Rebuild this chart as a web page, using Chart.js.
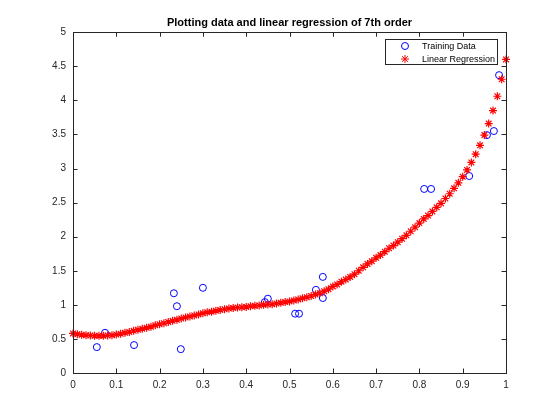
<!DOCTYPE html>
<html>
<head>
<meta charset="utf-8">
<script src="https://cdn.jsdelivr.net/npm/chart.js@4"></script>
<style>
  html, body { margin: 0; padding: 0; background: #fff; }
  #wrap { width: 560px; height: 420px; }
</style>
</head>
<body>
<div id="wrap"><canvas id="chart" width="560" height="420"></canvas></div>
<script>
// training samples
const trainX = [0.055, 0.074, 0.141, 0.233, 0.240, 0.249, 0.300, 0.443, 0.450, 0.513,
                0.522, 0.561, 0.577, 0.577, 0.811, 0.827, 0.915, 0.956, 0.972, 0.984];
const trainY = [0.38, 0.59, 0.41, 1.17, 0.98, 0.35, 1.25, 1.04, 1.09, 0.87,
                0.87, 1.22, 1.41, 1.10, 2.70, 2.70, 2.89, 3.49, 3.55, 4.37];

// fitted curve (7th order), sampled every 0.01
const fitX = [0.00, 0.01, 0.02, 0.03, 0.04, 0.05, 0.06, 0.07, 0.08, 0.09,
              0.10, 0.11, 0.12, 0.13, 0.14, 0.15, 0.16, 0.17, 0.18, 0.19,
              0.20, 0.21, 0.22, 0.23, 0.24, 0.25, 0.26, 0.27, 0.28, 0.29,
              0.30, 0.31, 0.32, 0.33, 0.34, 0.35, 0.36, 0.37, 0.38, 0.39,
              0.40, 0.41, 0.42, 0.43, 0.44, 0.45, 0.46, 0.47, 0.48, 0.49,
              0.50, 0.51, 0.52, 0.53, 0.54, 0.55, 0.56, 0.57, 0.58, 0.59,
              0.60, 0.61, 0.62, 0.63, 0.64, 0.65, 0.66, 0.67, 0.68, 0.69,
              0.70, 0.71, 0.72, 0.73, 0.74, 0.75, 0.76, 0.77, 0.78, 0.79,
              0.80, 0.81, 0.82, 0.83, 0.84, 0.85, 0.86, 0.87, 0.88, 0.89,
              0.90, 0.91, 0.92, 0.93, 0.94, 0.95, 0.96, 0.97, 0.98, 0.99, 1.00];
const fitY = [0.58, 0.57, 0.56, 0.555, 0.55, 0.545, 0.545, 0.545, 0.55, 0.555,
              0.565, 0.575, 0.59, 0.60, 0.62, 0.635, 0.65, 0.665, 0.68, 0.70,
              0.715, 0.73, 0.75, 0.765, 0.78, 0.80, 0.815, 0.83, 0.845, 0.86,
              0.875, 0.89, 0.90, 0.915, 0.925, 0.935, 0.945, 0.955, 0.96, 0.965,
              0.97, 0.98, 0.985, 0.99, 1.00, 1.005, 1.01, 1.02, 1.03, 1.04,
              1.05, 1.065, 1.08, 1.095, 1.11, 1.13, 1.15, 1.17, 1.20, 1.23,
              1.27, 1.30, 1.34, 1.37, 1.41, 1.45, 1.50, 1.55, 1.60, 1.64,
              1.69, 1.73, 1.78, 1.83, 1.87, 1.92, 1.97, 2.02, 2.08, 2.14,
              2.20, 2.26, 2.31, 2.37, 2.43, 2.49, 2.56, 2.63, 2.71, 2.79,
              2.88, 2.98, 3.09, 3.21, 3.34, 3.49, 3.66, 3.85, 4.06, 4.31, 4.60];

const xTicks = [0, 0.1, 0.2, 0.3, 0.4, 0.5, 0.6, 0.7, 0.8, 0.9, 1];
const yTicks = [0, 0.5, 1, 1.5, 2, 2.5, 3, 3.5, 4, 4.5, 5];

const FONT = 'Liberation Sans, Arial, Helvetica, sans-serif';
const AXIS = '#262626';

// matlab style box, inward ticks on all sides, legend in the corner
const matlabFrame = {
    id: 'matlabFrame',
    afterDatasetsDraw: function(chart) {
        const ctx = chart.ctx;
        const a = chart.chartArea;
        const xs = chart.scales.x, ys = chart.scales.y;
        const tl = 4.5;
        ctx.save();
        ctx.strokeStyle = AXIS;
        ctx.lineWidth = 1;
        ctx.strokeRect(Math.round(a.left) + 0.5, Math.round(a.top) + 0.5,
                       Math.round(a.right - a.left), Math.round(a.bottom - a.top));
        ctx.beginPath();
        xTicks.forEach(function(v) {
            const px = Math.round(xs.getPixelForValue(v)) + 0.5;
            ctx.moveTo(px, a.bottom); ctx.lineTo(px, a.bottom - tl);
            ctx.moveTo(px, a.top); ctx.lineTo(px, a.top + tl);
        });
        yTicks.forEach(function(v) {
            const py = Math.round(ys.getPixelForValue(v)) + 0.5;
            ctx.moveTo(a.left, py); ctx.lineTo(a.left + tl, py);
            ctx.moveTo(a.right, py); ctx.lineTo(a.right - tl, py);
        });
        ctx.stroke();

        // legend
        const lx = 385.5, ly = 39.5, lw = 112, lh = 25;
        ctx.fillStyle = '#fff';
        ctx.fillRect(lx, ly, lw, lh);
        ctx.strokeStyle = AXIS;
        ctx.strokeRect(lx, ly, lw, lh);
        ctx.font = '9px ' + FONT;
        ctx.textBaseline = 'middle';
        ctx.textAlign = 'left';
        chart.data.datasets.forEach(function(ds, i) {
            const y = 46 + i * 13;
            ctx.strokeStyle = ds.borderColor;
            ctx.fillStyle = 'rgba(0,0,0,0)';
            ctx.lineWidth = 1;
            Chart.helpers.drawPoint(ctx, {
                pointStyle: ds.pointStyle, radius: ds.pointRadius,
                rotation: 0, borderWidth: 1
            }, 405, y);
            ctx.fillStyle = '#000';
            ctx.fillText(ds.label, 422, y + 0.5);
        });
        ctx.restore();
    }
};

new Chart(document.getElementById('chart'), {
    type: 'scatter',
    data: {
        datasets: [
            {
                label: 'Training Data',
                data: trainX.map((x, i) => ({ x: x, y: trainY[i] })),
                pointStyle: 'circle',
                pointRadius: 3.5,
                borderColor: '#0000ff',
                backgroundColor: 'rgba(0,0,0,0)',
                borderWidth: 1,
                order: 1
            },
            {
                label: 'Linear Regression',
                data: fitX.map((x, i) => ({ x: x, y: fitY[i] })),
                pointStyle: 'star',
                pointRadius: 4,
                borderColor: '#ff0000',
                backgroundColor: '#ff0000',
                borderWidth: 1.2,
                clip: false,
                order: 0
            }
        ]
    },
    options: {
        responsive: false,
        animation: false,
        devicePixelRatio: 1,
        layout: { padding: { left: 0, right: 54, top: 0, bottom: 0 } },
        plugins: {
            legend: { display: false },
            tooltip: { enabled: false },
            title: {
                display: true,
                fullSize: false,
                text: 'Plotting data and linear regression of 7th order',
                color: '#000',
                font: { family: FONT, size: 11, weight: 'bold' },
                padding: { top: 16, bottom: 3 }
            }
        },
        scales: {
            x: {
                type: 'linear',
                min: 0, max: 1,
                afterBuildTicks: function(s) { s.ticks = xTicks.map(v => ({ value: v })); },
                afterFit: function(s) { s.height = 47; },
                grid: { display: false, drawTicks: false },
                border: { display: false },
                ticks: { color: AXIS, padding: 6, maxRotation: 0, autoSkip: false,
                         callback: v => String(v),
                         font: { family: FONT, size: 10 } }
            },
            y: {
                type: 'linear',
                min: 0, max: 5,
                afterBuildTicks: function(s) { s.ticks = yTicks.map(v => ({ value: v })); },
                afterFit: function(s) { s.width = 73; },
                grid: { display: false, drawTicks: false },
                border: { display: false },
                ticks: { color: AXIS, padding: 7, autoSkip: false,
                         callback: v => String(v),
                         font: { family: FONT, size: 10 } }
            }
        }
    },
    plugins: [matlabFrame]
});
</script>
</body>
</html>
